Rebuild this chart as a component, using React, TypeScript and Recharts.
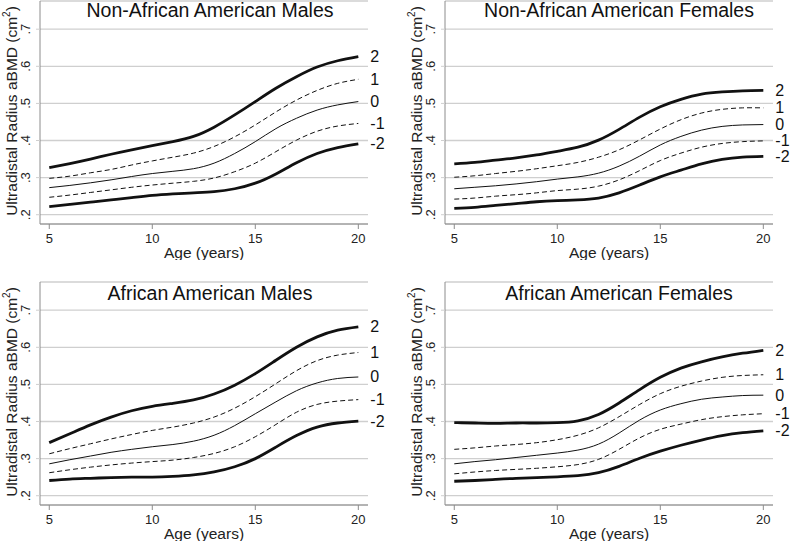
import React from 'react';
import { LineChart, Line, XAxis, YAxis, CartesianGrid } from 'recharts';

const AGES = [5, 6, 7, 8, 9, 10, 11, 12, 13, 14, 15, 16, 17, 18, 19, 20];
const X_TICKS = [5, 10, 15, 20];
const Y_TICKS = [0.2, 0.3, 0.4, 0.5, 0.6, 0.7];
const LINE_LABELS = ['2', '1', '0', '-1', '-2'];

// Non-African American Males
const NAAM_P2 = [0.327, 0.338, 0.350, 0.363, 0.375, 0.386, 0.397, 0.411, 0.436, 0.469, 0.505, 0.541, 0.572, 0.598, 0.615, 0.626];
const NAAM_P1 = [0.298, 0.304, 0.313, 0.322, 0.334, 0.345, 0.355, 0.366, 0.384, 0.410, 0.442, 0.477, 0.509, 0.535, 0.554, 0.565];
const NAAM_Z0 = [0.273, 0.279, 0.286, 0.294, 0.303, 0.311, 0.317, 0.324, 0.339, 0.365, 0.397, 0.432, 0.460, 0.482, 0.496, 0.505];
const NAAM_M1 = [0.247, 0.253, 0.260, 0.267, 0.274, 0.280, 0.285, 0.290, 0.299, 0.316, 0.339, 0.370, 0.401, 0.425, 0.439, 0.446];
const NAAM_M2 = [0.222, 0.228, 0.234, 0.240, 0.246, 0.252, 0.256, 0.259, 0.262, 0.270, 0.285, 0.310, 0.340, 0.365, 0.381, 0.391];

// Non-African American Females
const NAAF_P2 = [0.337, 0.341, 0.347, 0.353, 0.361, 0.371, 0.382, 0.401, 0.430, 0.463, 0.491, 0.511, 0.525, 0.531, 0.534, 0.535];
const NAAF_P1 = [0.301, 0.305, 0.311, 0.317, 0.324, 0.332, 0.341, 0.355, 0.375, 0.402, 0.431, 0.456, 0.474, 0.484, 0.488, 0.488];
const NAAF_Z0 = [0.270, 0.274, 0.278, 0.283, 0.289, 0.296, 0.302, 0.312, 0.331, 0.358, 0.388, 0.411, 0.428, 0.438, 0.442, 0.443];
const NAAF_M1 = [0.242, 0.245, 0.250, 0.254, 0.259, 0.265, 0.269, 0.277, 0.294, 0.319, 0.346, 0.366, 0.382, 0.392, 0.397, 0.399];
const NAAF_M2 = [0.217, 0.220, 0.225, 0.230, 0.235, 0.238, 0.240, 0.245, 0.259, 0.280, 0.302, 0.320, 0.337, 0.349, 0.355, 0.357];

// African American Males
const AAM_P2 = [0.343, 0.367, 0.391, 0.412, 0.429, 0.441, 0.449, 0.458, 0.474, 0.498, 0.529, 0.565, 0.600, 0.628, 0.646, 0.655];
const AAM_P1 = [0.313, 0.327, 0.340, 0.353, 0.365, 0.376, 0.385, 0.396, 0.412, 0.436, 0.467, 0.502, 0.537, 0.564, 0.579, 0.586];
const AAM_Z0 = [0.286, 0.297, 0.307, 0.317, 0.325, 0.332, 0.338, 0.347, 0.363, 0.389, 0.421, 0.453, 0.483, 0.504, 0.516, 0.520];
const AAM_M1 = [0.262, 0.270, 0.277, 0.283, 0.288, 0.292, 0.296, 0.303, 0.314, 0.332, 0.359, 0.392, 0.425, 0.446, 0.455, 0.459];
const AAM_M2 = [0.241, 0.245, 0.247, 0.249, 0.250, 0.250, 0.252, 0.256, 0.264, 0.278, 0.300, 0.331, 0.362, 0.385, 0.396, 0.401];

// African American Females
const AAF_P2 = [0.397, 0.396, 0.395, 0.396, 0.396, 0.397, 0.402, 0.419, 0.450, 0.486, 0.519, 0.544, 0.561, 0.574, 0.584, 0.592];
const AAF_P1 = [0.325, 0.329, 0.334, 0.338, 0.343, 0.351, 0.363, 0.383, 0.413, 0.446, 0.475, 0.495, 0.509, 0.519, 0.524, 0.526];
const AAF_Z0 = [0.286, 0.292, 0.297, 0.303, 0.309, 0.315, 0.323, 0.339, 0.369, 0.404, 0.431, 0.448, 0.460, 0.466, 0.470, 0.471];
const AAF_M1 = [0.259, 0.264, 0.268, 0.271, 0.274, 0.278, 0.284, 0.298, 0.325, 0.356, 0.379, 0.393, 0.405, 0.413, 0.418, 0.421];
const AAF_M2 = [0.239, 0.241, 0.244, 0.247, 0.249, 0.251, 0.254, 0.262, 0.279, 0.301, 0.320, 0.336, 0.350, 0.362, 0.370, 0.375];

const FONT = '"Liberation Sans", Arial, Helvetica, sans-serif';

type Panel = {
  title: string;
  left: number;
  top: number;
  titleX: number;
  titleY: number;
  series: number[][];
};

const PANELS: Panel[] = [
  { title: 'Non-African American Males', left: 0, top: 0, titleX: 210, titleY: 1, series: [NAAM_P2, NAAM_P1, NAAM_Z0, NAAM_M1, NAAM_M2] },
  { title: 'Non-African American Females', left: 405, top: 0, titleX: 619, titleY: 1, series: [NAAF_P2, NAAF_P1, NAAF_Z0, NAAF_M1, NAAF_M2] },
  { title: 'African American Males', left: 0, top: 281, titleX: 210, titleY: 284, series: [AAM_P2, AAM_P1, AAM_Z0, AAM_M1, AAM_M2] },
  { title: 'African American Females', left: 405, top: 281, titleX: 619, titleY: 284, series: [AAF_P2, AAF_P1, AAF_Z0, AAF_M1, AAF_M2] },
];

const KEYS = ['p2', 'p1', 'z0', 'm1', 'm2'];
const STYLES = [
  { w: 2.8, dash: undefined },
  { w: 1, dash: '5 3' },
  { w: 1, dash: undefined },
  { w: 1, dash: '5 3' },
  { w: 2.8, dash: undefined },
];

const fmtY = (v: number) => v.toFixed(1).replace(/^0/, '');

const YTick = (props: any) => {
  const { x, y, payload } = props;
  return (
    <text x={x} y={y} transform={`rotate(-90, ${x}, ${y})`} textAnchor="middle" fontSize={13} fill="#222" fontFamily={FONT}>
      {fmtY(payload.value)}
    </text>
  );
};

const YTitle = (props: any) => {
  const vb = props.viewBox || { x: 0, y: 1, width: 40, height: 223 };
  const x = vb.x + vb.width - 23;
  const y = vb.y + vb.height / 2 - 1.5;
  return (
    <text x={x} y={y} transform={`rotate(-90, ${x}, ${y})`} textAnchor="middle" fontSize={15.5} fill="#222" fontFamily={FONT}>
      <tspan>Ultradistal Radius aBMD (cm</tspan>
      <tspan fontSize={10} dy={-7}>2</tspan>
      <tspan dy={7}>)</tspan>
    </text>
  );
};

const endLabel = (text: string, last: number) => (props: any) => {
  const { x, y, index } = props;
  if (index !== last) return null;
  return (
    <text x={x + 12} y={y + 5.5} fontSize={16} fill="#111" fontFamily={FONT} textAnchor="start">
      {text}
    </text>
  );
};

function PanelChart({ panel }: { panel: Panel }) {
  const data = AGES.map((age, i) => {
    const row: any = { age };
    KEYS.forEach((k, j) => {
      row[k] = panel.series[j][i];
    });
    return row;
  });
  const last = AGES.length - 1;
  return (
    <div style={{ position: 'absolute', left: panel.left, top: panel.top, width: 395, height: 260 }}>
      <LineChart width={395} height={260} data={data} margin={{ top: 1, right: 27, bottom: 0, left: 0 }}>
        <CartesianGrid vertical={false} stroke="#cfcfcf" strokeWidth={1.3} />
        <XAxis
          dataKey="age"
          type="number"
          domain={[4.55, 20.47]}
          ticks={X_TICKS}
          allowDataOverflow
          height={36}
          tickSize={5}
          tickMargin={5}
          stroke="#8c8c8c"
          tick={{ fontSize: 13, fill: '#222', fontFamily: FONT }}
          label={{ value: 'Age (years)', position: 'insideBottom', offset: 2, fontSize: 15.5, fill: '#222', fontFamily: FONT }}
        />
        <YAxis
          type="number"
          domain={[0.175, 0.776]}
          ticks={Y_TICKS}
          allowDataOverflow
          width={40}
          tickSize={4}
          tickMargin={6}
          stroke="#8c8c8c"
          tickLine={{ stroke: '#cfcfcf' }}
          tick={<YTick />}
          label={<YTitle />}
        />
        {KEYS.map((k, j) => (
          <Line
            key={k}
            dataKey={k}
            type="natural"
            stroke="#111"
            strokeWidth={STYLES[j].w}
            strokeDasharray={STYLES[j].dash}
            dot={false}
            activeDot={false}
            isAnimationActive={false}
            label={endLabel(LINE_LABELS[j], last)}
          />
        ))}
      </LineChart>
    </div>
  );
}

export default function App() {
  return (
    <div style={{ position: 'absolute', left: 0, top: 0, width: 791, height: 542, background: '#fff', overflow: 'hidden', fontFamily: FONT }}>
      {PANELS.map((p) => (
        <PanelChart key={p.title} panel={p} />
      ))}
      {PANELS.map((p) => (
        <div
          key={p.title + '-t'}
          style={{
            position: 'absolute',
            left: p.titleX - 200,
            top: p.titleY,
            width: 400,
            textAlign: 'center',
            fontSize: 19.5,
            lineHeight: '19px',
            color: '#111',
            fontFamily: FONT,
            whiteSpace: 'nowrap',
          }}
        >
          {p.title}
        </div>
      ))}
    </div>
  );
}
